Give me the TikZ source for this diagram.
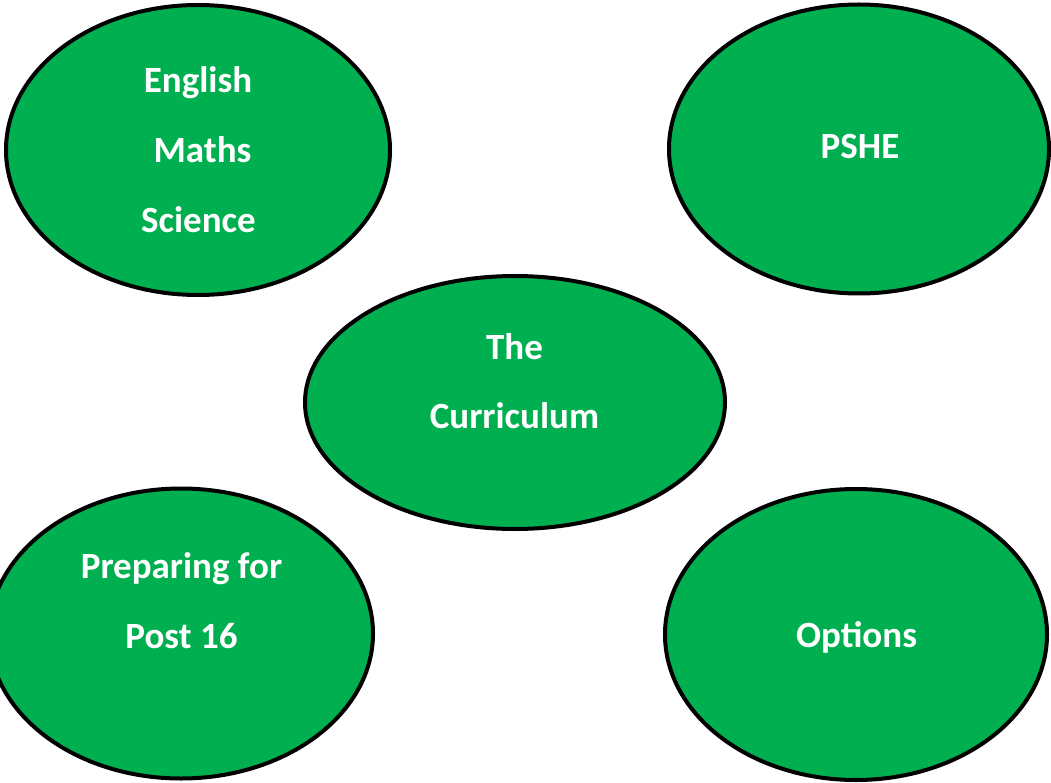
\documentclass[tikz,border=0pt]{standalone}
\usepackage{fontspec}
\setmainfont{Carlito}
\usetikzlibrary{shapes.geometric}
\definecolor{topicgreen}{HTML}{00B050}
\begin{document}
\begin{tikzpicture}
  [x=1pt, y=-1pt]
  \tikzstyle{bubble} = [ellipse, draw=black, line width=4pt, fill=topicgreen, inner sep=0pt];
  \tikzstyle{word}   = [anchor=base, text=white, inner sep=0pt, font=\fontsize{37}{44}\selectfont\bfseries];

  \useasboundingbox (0, 0) rectangle (1051, 783);

  \node[bubble, minimum width=384, minimum height=290] (core3) at (198, 150) {};
  \node[bubble, minimum width=380, minimum height=289] (pshe) at (859, 149) {};
  \node[bubble, minimum width=420, minimum height=253] (curric) at (515, 402.5) {};
  \node[bubble, minimum width=384, minimum height=290] (post16) at (181, 633.5) {};
  \node[bubble, minimum width=382, minimum height=291] (options) at (856, 634.5) {};

  \node[word] (english) at (198, 93) {English};
  \node[word] (maths) at (202.5, 163) {Maths};
  \node[word] (science) at (198.5, 233) {Science};

  \node[word] (psheword) at (860, 159) {PSHE};

  \node[word] (the) at (514.5, 359) {The};
  \node[word] (curriculum) at (514.5, 428) {Curriculum};

  \node[word] (preparing) at (181.5, 578) {Preparing for};
  \node[word] (post) at (181.5, 648) {Post 16};

  \node[word] (optword) at (856.5, 647) {Options};

\end{tikzpicture}
\end{document}
